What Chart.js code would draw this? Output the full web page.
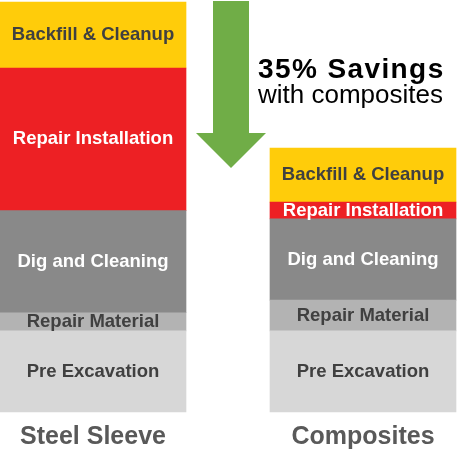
<!DOCTYPE html>
<html>
<head>
<meta charset="utf-8">
<script src="https://cdn.jsdelivr.net/npm/chart.js@4.4.0/dist/chart.umd.min.js"></script>
<style>
  html, body { margin: 0; padding: 0; background: #fff; }
  #wrap { width: 457px; height: 451px; }
</style>
</head>
<body>
<div id="wrap"><canvas id="chart"></canvas></div>
<script>
// cost breakdown, in % of the steel sleeve total
const categories = ['Steel Sleeve', 'Composites'];
const segments = ['Pre Excavation', 'Repair Material', 'Dig and Cleaning', 'Repair Installation', 'Backfill & Cleanup'];
const preExcavation = [19.8, 19.8];
const repairMaterial = [4.4, 7.5];
const digAndCleaning = [24.9, 19.8];
const repairInstallation = [34.8, 4.1];
const backfillCleanup = [16.1, 13.2];
const savingsTitle = '35% Savings';
const savingsSub = 'with composites';

const segValues = [preExcavation, repairMaterial, digAndCleaning, repairInstallation, backfillCleanup];
const segColors = ['#d7d7d7', '#b3b3b3', '#898989', '#ed2024', '#ffcc0a'];
const textColors = ['#404040', '#404040', '#ffffff', '#ffffff', '#404040'];
const FONT = '"Liberation Sans", Arial, sans-serif';

// labels drawn in the middle of each stacked segment
const segmentLabels = {
  id: 'segmentLabels',
  afterDatasetsDraw(chart) {
    const ctx = chart.ctx;
    ctx.save();
    ctx.font = 'bold 18.5px ' + FONT;
    ctx.textAlign = 'center';
    ctx.textBaseline = 'middle';
    chart.data.datasets.forEach((ds, i) => {
      chart.getDatasetMeta(i).data.forEach(bar => {
        ctx.fillStyle = textColors[i];
        ctx.fillText(ds.label, bar.x, (bar.y + bar.base) / 2);
      });
    });
    ctx.restore();
  }
};

// green down arrow and the savings note
const savingsNote = {
  id: 'savingsNote',
  afterDraw(chart) {
    const ctx = chart.ctx;
    ctx.save();
    ctx.fillStyle = '#70ad47';
    ctx.beginPath();
    ctx.moveTo(213, 1);
    ctx.lineTo(249, 1);
    ctx.lineTo(249, 133);
    ctx.lineTo(266, 133);
    ctx.lineTo(231, 168);
    ctx.lineTo(196, 133);
    ctx.lineTo(213, 133);
    ctx.closePath();
    ctx.fill();

    ctx.fillStyle = '#000';
    ctx.textAlign = 'left';
    ctx.textBaseline = 'alphabetic';
    ctx.font = 'bold 28px ' + FONT;
    ctx.letterSpacing = '1.4px';
    ctx.fillText(savingsTitle, 258, 78);
    ctx.letterSpacing = '0px';
    ctx.font = '26px ' + FONT;
    ctx.fillText(savingsSub, 258, 103);
    ctx.restore();
  }
};

new Chart(document.getElementById('chart'), {
  type: 'bar',
  data: {
    labels: categories,
    datasets: segments.map((name, i) => ({
      label: name,
      data: segValues[i],
      backgroundColor: segColors[i],
      borderWidth: 0,
      barThickness: 186,
      clip: false
    }))
  },
  options: {
    responsive: true,
    maintainAspectRatio: false,
    animation: false,
    layout: { padding: { left: 93, right: 94, top: 2, bottom: 0 } },
    plugins: {
      legend: { display: false },
      tooltip: { enabled: false }
    },
    scales: {
      x: {
        stacked: true,
        offset: false,
        grid: { display: false, drawTicks: false },
        border: { display: false },
        ticks: {
          color: '#595959',
          padding: 10,
          font: { family: FONT, size: 25, weight: 'bold' }
        },
        afterFit(scale) { scale.height = 39; }
      },
      y: {
        stacked: true,
        display: false,
        min: 0,
        max: 100
      }
    }
  },
  plugins: [segmentLabels, savingsNote]
});
</script>
</body>
</html>
